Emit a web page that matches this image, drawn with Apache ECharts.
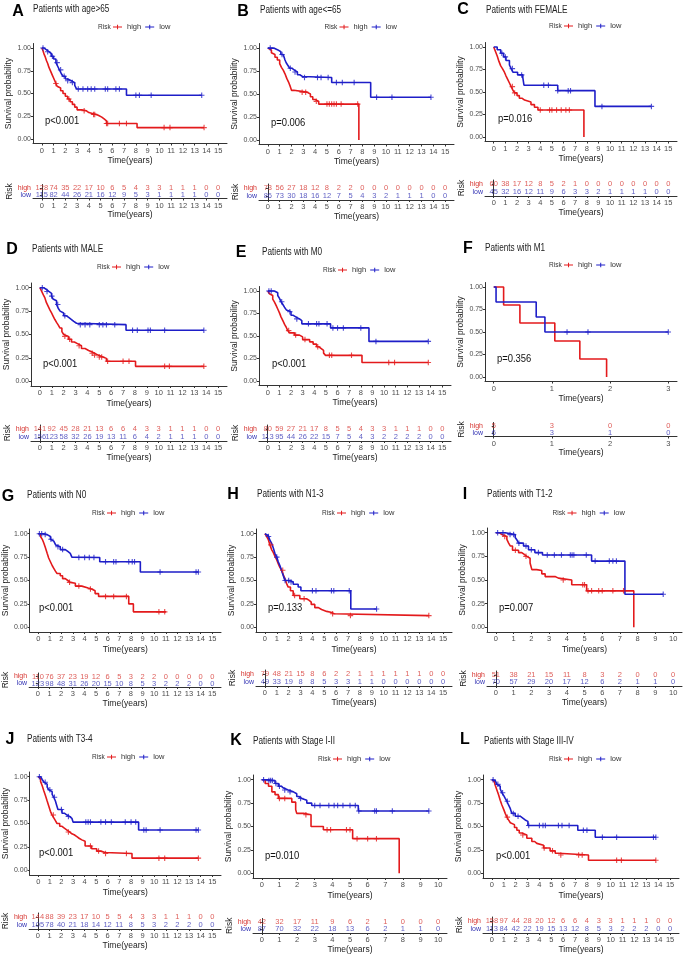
<!DOCTYPE html>
<html>
<head>
<meta charset="utf-8">
<script src="https://cdn.jsdelivr.net/npm/echarts@6/dist/echarts.min.js"></script>
<style>
  html, body { margin: 0; padding: 0; background: #fff; }
  #chart { width: 685px; height: 959px; }
</style>
</head>
<body>
<div id="chart"></div>
<script>
// Panel text
var letters = ['A', 'B', 'C', 'D', 'E', 'F', 'G', 'H', 'I', 'J', 'K', 'L'];
var titles = ['Patients with age>65', 'Patients with age<=65', 'Patients with FEMALE',
  'Patients with MALE', 'Patients with M0', 'Patients with M1',
  'Patients with N0', 'Patients with N1-3', 'Patients with T1-2',
  'Patients with T3-4', 'Patients with Stage I-II', 'Patients with Stage III-IV'];
var pValues = ['p<0.001', 'p=0.006', 'p=0.016', 'p<0.001', 'p<0.001', 'p=0.356',
  'p<0.001', 'p=0.133', 'p=0.007', 'p<0.001', 'p=0.010', 'p<0.001'];
var xMax = [15, 15, 15, 15, 15, 3, 15, 15, 10, 15, 10, 15];

// Kaplan-Meier steps [time, survival] and censor times
var aHigh = [[0,1],[0.1,0.97],[0.2,0.93],[0.3,0.9],[0.4,0.86],[0.5,0.83],[0.6,0.79],[0.7,0.76],[0.8,0.73],[0.9,0.7],[1.0,0.67],[1.1,0.64],[1.2,0.61],[1.3,0.58],[1.45,0.56],[1.6,0.53],[1.8,0.5],[2.0,0.47],[2.2,0.44],[2.4,0.41],[2.6,0.38],[2.8,0.35],[3.0,0.32],[3.4,0.31],[3.8,0.29],[4.0,0.27],[4.6,0.26],[4.8,0.24],[5.1,0.22],[5.3,0.2],[5.5,0.17],[8.1,0.125],[13.8,0.125]];
var aHighCens = [1.2,2.3,3.6,4.4,4.5,5.5,5.6,6.6,7.2,10.4,10.9,13.8];
var aLow = [[0,1],[0.2,0.98],[0.4,0.96],[0.6,0.94],[0.8,0.91],[1.0,0.88],[1.2,0.84],[1.35,0.8],[1.5,0.76],[1.65,0.72],[1.8,0.69],[2.0,0.66],[2.2,0.64],[2.5,0.62],[2.8,0.59],[2.95,0.55],[7.2,0.48],[13.6,0.48]];
var aLowCens = [0.1,0.5,0.9,1.3,1.6,1.9,2.2,2.6,3.1,3.5,3.9,4.2,4.5,5.4,5.6,6.3,6.6,8.0,8.3,9.3,13.6];

var bHigh = [[0,1],[0.15,0.98],[0.3,0.95],[0.45,0.93],[0.6,0.9],[0.8,0.87],[1.0,0.83],[1.15,0.79],[1.3,0.76],[1.45,0.72],[1.6,0.67],[1.75,0.63],[1.9,0.58],[2.0,0.54],[2.2,0.52],[3.3,0.5],[3.6,0.47],[3.8,0.44],[4.0,0.42],[4.3,0.39],[7.7,0]];
var bHighCens = [2.9,3.2,4.1,5.0,5.2,5.4,5.6,5.8,6.2,7.6];
var bLow = [[0,1],[0.5,0.98],[0.85,0.96],[1.1,0.93],[1.3,0.91],[1.45,0.87],[1.55,0.84],[1.7,0.81],[1.85,0.78],[2.05,0.76],[2.25,0.74],[2.5,0.71],[2.7,0.69],[2.95,0.68],[5.4,0.625],[8.7,0.465],[13.8,0.465]];
var bLowCens = [0.2,1.2,1.9,2.3,3.1,4.2,4.5,5.1,5.8,6.3,7.3,9.2,10.5,13.8];

var cHigh = [[0,1],[0.15,0.95],[0.3,0.9],[0.45,0.84],[0.6,0.79],[0.75,0.76],[0.92,0.72],[1.05,0.68],[1.2,0.64],[1.35,0.6],[1.5,0.56],[1.65,0.52],[1.8,0.49],[2.0,0.46],[2.2,0.43],[2.45,0.41],[2.65,0.39],[3.2,0.36],[3.5,0.33],[3.8,0.3],[7.75,0]];
var cHighCens = [1.6,1.8,4.0,4.8,5.0,5.4,5.8,6.2,6.5];
var cLow = [[0,1],[0.3,0.97],[0.6,0.93],[0.85,0.89],[1.05,0.85],[1.35,0.8],[1.5,0.76],[1.65,0.72],[2.05,0.69],[2.5,0.66],[2.6,0.575],[5.5,0.515],[8.7,0.34],[13.55,0.34]];
var cLowCens = [0.7,1.0,1.6,2.4,4.3,4.7,5.5,6.4,6.6,9.3,13.55];

var dHigh = [[0,1],[0.15,0.96],[0.3,0.92],[0.42,0.89],[0.55,0.84],[0.7,0.8],[0.85,0.76],[0.98,0.73],[1.1,0.7],[1.26,0.66],[1.4,0.63],[1.55,0.6],[1.68,0.57],[1.85,0.53],[2.0,0.5],[2.1,0.48],[2.4,0.45],[2.66,0.42],[2.9,0.4],[3.2,0.38],[3.5,0.35],[3.8,0.33],[4.1,0.315],[4.35,0.3],[4.6,0.28],[4.9,0.26],[5.3,0.245],[5.6,0.215],[8.05,0.16],[13.8,0.16]];
var dHighCens = [2.1,2.5,3.3,4.4,4.6,5.0,5.2,5.7,7.0,7.5,10.5,10.9,13.8];
var dLow = [[0,1],[0.3,0.98],[0.56,0.96],[0.75,0.94],[0.98,0.91],[1.1,0.88],[1.26,0.86],[1.4,0.82],[1.54,0.78],[1.7,0.75],[1.82,0.73],[2.0,0.7],[2.24,0.68],[2.45,0.66],[2.66,0.64],[2.85,0.62],[3.08,0.605],[7.25,0.545],[13.8,0.545]];
var dLowCens = [0.2,0.6,1.0,1.5,2.1,3.4,3.8,4.2,5.0,5.3,5.6,6.3,7.8,8.2,9.1,9.3,10.5,13.8];

var eHigh = [[0,1],[0.15,0.97],[0.29,0.95],[0.43,0.91],[0.57,0.88],[0.72,0.84],[0.86,0.8],[1.0,0.76],[1.15,0.71],[1.3,0.67],[1.45,0.63],[1.58,0.6],[1.72,0.56],[1.87,0.535],[2.3,0.51],[2.73,0.49],[3.0,0.46],[3.6,0.435],[3.9,0.41],[4.2,0.38],[4.4,0.36],[4.6,0.34],[4.8,0.31],[4.97,0.285],[8.1,0.205],[13.8,0.205]];
var eHighCens = [1.8,2.4,3.2,4.3,5.3,5.5,7.2,10.4,10.9,13.8];
var eLow = [[0,1],[0.57,0.98],[0.86,0.95],[1.0,0.92],[1.15,0.88],[1.3,0.85],[1.44,0.82],[1.6,0.79],[1.72,0.77],[2.0,0.73],[2.2,0.71],[2.44,0.69],[2.73,0.67],[2.93,0.635],[5.4,0.59],[8.7,0.44],[13.8,0.44]];
var eLowCens = [0.1,0.3,1.2,1.9,2.5,3.5,4.2,4.4,5.1,5.6,6.0,6.5,8.0,9.3,13.8];

var fHigh = [[0,1],[0.17,0.8],[0.45,0.6],[1.05,0.4],[1.48,0.2],[1.94,0]];
var fHighCens = [];
var fLow = [[0,1],[0.04,0.833],[0.73,0.667],[0.88,0.5],[3.0,0.5]];
var fLowCens = [1.26,1.62,3.0];

var gHigh = [[0,1],[0.2,0.97],[0.35,0.94],[0.48,0.9],[0.62,0.85],[0.77,0.79],[0.9,0.74],[1.05,0.7],[1.2,0.66],[1.34,0.63],[1.48,0.6],[1.62,0.575],[1.9,0.55],[2.1,0.52],[2.33,0.5],[2.55,0.48],[2.76,0.47],[3.2,0.44],[3.76,0.42],[4.3,0.41],[4.6,0.39],[4.9,0.36],[5.2,0.33],[7.8,0.25],[8.2,0.165],[11.0,0.165]];
var gHighCens = [2.7,3.5,4.5,5.8,6.5,7.6,10.4,10.9];
var gLow = [[0,1],[0.48,0.99],[0.77,0.97],[1.05,0.94],[1.2,0.92],[1.34,0.9],[1.5,0.88],[1.62,0.86],[1.9,0.83],[2.33,0.81],[2.55,0.79],[2.76,0.77],[2.9,0.75],[3.05,0.745],[5.3,0.7],[8.8,0.59],[13.8,0.59]];
var gLowCens = [0.1,0.3,0.6,1.1,1.7,2.1,3.5,4.0,4.4,4.8,5.8,6.5,6.7,7.8,8.1,8.3,10.5,13.6,13.8];

var hHigh = [[0,1],[0.15,0.97],[0.28,0.94],[0.42,0.88],[0.56,0.83],[0.7,0.8],[0.84,0.76],[1.0,0.72],[1.12,0.68],[1.26,0.64],[1.4,0.61],[1.55,0.56],[1.68,0.52],[1.82,0.47],[1.96,0.43],[2.15,0.39],[2.38,0.34],[2.94,0.305],[3.5,0.29],[3.7,0.27],[3.9,0.245],[4.2,0.21],[4.5,0.19],[4.77,0.17],[5.2,0.16],[5.55,0.145],[5.83,0.125],[13.8,0.125]];
var hHighCens = [0.5,1.5,2.5,3.3,5.7,7.2,13.8];
var hLow = [[0,1],[0.15,0.98],[0.28,0.97],[0.42,0.93],[0.56,0.9],[0.7,0.85],[0.84,0.79],[1.0,0.75],[1.12,0.7],[1.26,0.66],[1.4,0.61],[1.55,0.55],[1.68,0.5],[2.1,0.485],[2.38,0.46],[2.8,0.43],[3.03,0.39],[7.23,0.195],[9.4,0.195]];
var hLowCens = [0.3,1.0,1.7,2.0,2.2,4.0,4.3,5.6,5.8,7.1,9.4];

var iHigh = [[0,1],[0.2,0.98],[0.34,0.96],[0.62,0.93],[0.72,0.89],[0.81,0.86],[0.94,0.815],[1.28,0.79],[1.46,0.77],[1.6,0.75],[1.74,0.73],[1.93,0.68],[2.03,0.61],[2.3,0.6],[2.59,0.565],[2.78,0.536],[3.34,0.52],[3.53,0.5],[4.28,0.45],[5.12,0.385],[7.78,0]];
var iHighCens = [0.5,1.1,1.7,3.8,4.9,5.0,5.2,5.4,5.8,6.0,6.6,7.2];
var iLow = [[0,1],[0.53,0.98],[1.09,0.95],[1.2,0.92],[1.28,0.89],[1.56,0.86],[1.84,0.82],[2.2,0.79],[2.63,0.765],[5.4,0.7],[7.28,0.35],[9.44,0.35]];
var iLowCens = [0.1,0.4,0.8,1.0,1.3,1.7,2.0,2.4,2.9,3.3,3.7,4.2,4.3,4.4,5.1,5.6,6.4,6.6,6.8,9.44];

var jHigh = [[0,1],[0.1,0.98],[0.2,0.95],[0.35,0.9],[0.48,0.85],[0.62,0.8],[0.77,0.74],[0.9,0.69],[1.05,0.63],[1.2,0.59],[1.34,0.56],[1.48,0.53],[1.62,0.5],[1.85,0.47],[2.05,0.45],[2.25,0.43],[2.48,0.41],[2.7,0.39],[2.9,0.38],[3.1,0.36],[3.33,0.34],[3.55,0.325],[3.76,0.31],[4.04,0.26],[4.6,0.23],[5.04,0.205],[5.4,0.19],[5.75,0.18],[8.08,0.13],[13.8,0.13]];
var jHighCens = [1.3,2.6,4.5,5.2,5.8,7.6,10.4,10.9,13.8];
var jLow = [[0,1],[0.2,0.98],[0.34,0.97],[0.5,0.94],[0.63,0.92],[0.77,0.89],[0.91,0.86],[1.05,0.84],[1.2,0.81],[1.34,0.78],[1.48,0.74],[1.6,0.69],[1.7,0.65],[2.05,0.61],[2.25,0.59],[2.48,0.575],[2.7,0.555],[2.9,0.54],[3.0,0.515],[8.65,0.43],[13.8,0.43]];
var jLowCens = [0.1,0.6,1.0,1.4,2.0,2.6,4.1,4.3,4.5,5.4,5.8,6.3,7.5,8.0,8.4,9.1,9.3,10.5,13.6,13.8];

var kHigh = [[0,1],[0.19,0.96],[0.38,0.93],[0.57,0.87],[0.75,0.84],[0.94,0.8],[1.7,0.76],[1.92,0.68],[1.98,0.64],[2.36,0.625],[2.79,0.5],[3.49,0.465],[5.15,0.37],[7.79,0]];
var kHighCens = [1.0,1.3,2.5,3.7,3.9,4.8,5.0,5.4,6.0,6.5];
var kLow = [[0,1],[0.38,0.99],[0.75,0.96],[0.94,0.93],[1.1,0.91],[1.23,0.89],[1.5,0.87],[1.79,0.85],[1.98,0.82],[2.1,0.8],[2.26,0.78],[2.55,0.75],[2.83,0.725],[5.47,0.665],[9.47,0.665]];
var kLowCens = [0.1,0.4,0.5,0.6,0.8,1.0,1.3,1.6,2.2,3.0,3.3,3.8,4.1,4.3,4.6,5.0,5.3,5.5,6.4,6.5,7.4,9.47];

var lHigh = [[0,1],[0.1,0.98],[0.2,0.96],[0.28,0.94],[0.42,0.89],[0.56,0.84],[0.7,0.78],[0.84,0.73],[1.0,0.68],[1.12,0.64],[1.26,0.6],[1.4,0.57],[1.55,0.54],[1.68,0.52],[1.9,0.49],[2.1,0.46],[2.3,0.43],[2.52,0.41],[2.94,0.375],[3.36,0.34],[3.6,0.32],[3.78,0.3],[4.35,0.27],[4.9,0.24],[5.33,0.215],[5.6,0.195],[8.13,0.14],[13.8,0.14]];
var lHighCens = [1.3,2.6,4.4,5.1,5.8,7.3,7.6,10.5,10.9,13.8];
var lLow = [[0,1],[0.14,0.99],[0.28,0.98],[0.42,0.95],[0.56,0.93],[0.7,0.9],[0.84,0.86],[1.0,0.83],[1.12,0.8],[1.26,0.77],[1.4,0.73],[1.55,0.69],[1.68,0.64],[1.96,0.61],[2.38,0.59],[2.6,0.57],[2.8,0.555],[3.03,0.51],[7.23,0.46],[8.7,0.385],[13.8,0.385]];
var lLowCens = [0.1,0.5,0.9,1.3,1.8,2.2,3.1,4.0,4.3,4.5,5.6,5.9,6.5,7.7,8.0,9.3,10.5,13.6,13.8];

// Numbers at risk (one value per year tick)
var aRiskHigh = [128,74,35,22,17,10,6,5,4,3,3,1,1,1,0,0];
var aRiskLow  = [115,82,44,26,21,16,12,9,5,3,1,1,1,1,0,0];
var bRiskHigh = [73,56,27,18,12,8,2,2,0,0,0,0,0,0,0,0];
var bRiskLow  = [86,73,30,18,16,12,7,5,4,3,2,1,1,1,0,0];
var cRiskHigh = [60,38,17,12,8,5,2,1,0,0,0,0,0,0,0,0];
var cRiskLow  = [45,32,16,12,11,9,6,3,3,2,1,1,1,1,0,0];
var dRiskHigh = [141,92,45,28,21,13,6,6,4,3,3,1,1,1,0,0];
var dRiskLow  = [156,123,58,32,26,19,13,11,6,4,2,1,1,1,0,0];
var eRiskHigh = [80,59,27,21,17,8,5,5,4,3,3,1,1,1,0,0];
var eRiskLow  = [113,95,44,26,22,15,7,5,4,3,2,2,2,2,0,0];
var fRiskHigh = [5,3,0,0];
var fRiskLow  = [6,3,1,0];
var gRiskHigh = [110,76,37,23,19,12,6,5,3,2,2,0,0,0,0,0];
var gRiskLow  = [123,98,48,31,26,20,15,10,8,5,3,2,2,2,0,0];
var hRiskHigh = [79,48,21,15,8,6,2,2,1,1,1,1,1,1,0,0];
var hRiskLow  = [49,33,19,8,8,5,3,3,1,1,0,0,0,0,0,0];
var iRiskHigh = [51,38,21,15,11,8,3,2,0,0,0];
var iRiskLow  = [70,57,29,20,17,12,6,2,1,1,0];
var jRiskHigh = [144,88,39,23,17,10,5,5,4,3,3,1,1,1,0,0];
var jRiskLow  = [105,78,40,21,18,14,12,11,8,5,3,2,2,2,0,0];
var kRiskHigh = [42,32,17,11,9,6,2,1,0,0,0];
var kRiskLow  = [87,70,32,22,18,13,6,2,1,1,0];
var lRiskHigh = [158,97,44,28,20,12,6,6,4,3,3,1,1,1,0,0];
var lRiskLow  = [113,84,42,22,19,15,13,12,8,5,3,2,2,2,0,0];

var panels = [
  [aHigh, aHighCens, aLow, aLowCens, aRiskHigh, aRiskLow],
  [bHigh, bHighCens, bLow, bLowCens, bRiskHigh, bRiskLow],
  [cHigh, cHighCens, cLow, cLowCens, cRiskHigh, cRiskLow],
  [dHigh, dHighCens, dLow, dLowCens, dRiskHigh, dRiskLow],
  [eHigh, eHighCens, eLow, eLowCens, eRiskHigh, eRiskLow],
  [fHigh, fHighCens, fLow, fLowCens, fRiskHigh, fRiskLow],
  [gHigh, gHighCens, gLow, gLowCens, gRiskHigh, gRiskLow],
  [hHigh, hHighCens, hLow, hLowCens, hRiskHigh, hRiskLow],
  [iHigh, iHighCens, iLow, iLowCens, iRiskHigh, iRiskLow],
  [jHigh, jHighCens, jLow, jLowCens, jRiskHigh, jRiskLow],
  [kHigh, kHighCens, kLow, kLowCens, kRiskHigh, kRiskLow],
  [lHigh, lHighCens, lLow, lLowCens, lRiskHigh, lRiskLow]
];

// Layout (pixels): survival plot box [left, top, right, bottom], risk table [top, height]
var plotBox = [
  [33, 43.5, 227, 143.5], [259, 43.5, 454, 144.5], [485, 42.5, 677, 141.5],
  [31, 283, 227, 386], [259, 286.5, 451, 385.5], [485, 282.5, 677, 381.5],
  [27, 529, 221, 632], [256, 529, 452, 632], [487, 528, 682, 632],
  [27, 772, 221, 875], [253, 775, 447, 878], [483, 775, 679, 878]
];
var riskBox = [
  [184.5, 14], [184, 16], [180, 16],
  [425, 16], [425, 16], [422.5, 14],
  [673, 14], [670, 16], [671, 15],
  [913, 16], [918.5, 14.5], [917, 16]
];
// letter [x, y], title [x, y], legend y, p-value [x, y]
var letterPos = [[18,12],[243,12],[463,10],[12,250],[241,253],[468,249],[8,497],[233,495],[465,495],[10,740],[236,741],[465,740]];
var titlePos = [[33,9],[260,10],[486,10],[32,249],[262,252],[485,248],[27,495],[257,494],[487,494],[27,739],[253,741],[484,741]];
var legendY = [27,27,26,267,270,265,513,513,513,757,759,759];
var pPos = [[45,121],[271,123],[498,119],[43,364],[272,364],[497,359],[39,608],[268,608],[499,608],[39,853],[265,856],[496,856]];

var FONT = '"Liberation Sans", Arial, sans-serif';
var NARROW = 0.82;
var RED = '#E31A1C', BLUE = '#1E1EC8';
var RED_T = '#D6342F', BLUE_T = '#3434B4';
var AXIS = '#333333', TXT = '#4D4D4D';
var crossIcon = 'path://M4,0h2v4h4v2h-4v4h-2v-4h-4v-2h4z';
var legendIcon = 'path://M0,4h20v2.2h-20z M9,0h2.2v10h-2.2z';

function survAt(steps, t) {
  var s = steps[0][1];
  for (var k = 0; k < steps.length; k++) {
    if (steps[k][0] <= t) s = steps[k][1]; else break;
  }
  return s;
}

function ticks(max) {
  var out = [];
  for (var t = 0; t <= max; t++) out.push(t);
  return out;
}

function label(x, y, text, size, fill, extra) {
  return {
    type: 'text', x: x, y: y, scaleX: NARROW, silent: true,
    style: Object.assign({ text: text, fontSize: size, fill: fill, fontFamily: FONT, verticalAlign: 'middle' }, extra || {})
  };
}

var grids = [], xAxes = [], yAxes = [], series = [], legends = [], graphics = [];

panels.forEach(function (p, i) {
  var box = plotBox[i], rb = riskBox[i], mx = xMax[i];
  var g = i * 2, gr = i * 2 + 1;
  var w = box[2] - box[0];

  grids.push({ left: box[0], top: box[1], width: w, height: box[3] - box[1] });
  grids.push({ left: box[0], top: rb[0], width: w, height: rb[1] });

  var xCommon = {
    type: 'value', min: -0.05 * mx, max: 1.05 * mx,
    axisLine: { show: true, onZero: false, lineStyle: { color: AXIS, width: 1 } },
    axisTick: { show: true, length: 2, customValues: ticks(mx), lineStyle: { color: AXIS } },
    axisLabel: { customValues: ticks(mx), fontSize: 7.5, color: TXT, margin: 3, fontFamily: FONT },
    splitLine: { show: false },
    name: 'Time(years)', nameLocation: 'middle',
    nameTextStyle: { fontSize: 8.5, color: '#222', fontFamily: FONT }
  };
  xAxes.push(Object.assign({ gridIndex: g, nameGap: 13 }, xCommon));
  xAxes.push(Object.assign({ gridIndex: gr, nameGap: 12 }, xCommon));

  yAxes.push({
    gridIndex: g, type: 'value', min: -0.05, max: 1.05,
    axisLine: { show: true, onZero: false, lineStyle: { color: AXIS, width: 1 } },
    axisTick: { show: true, length: 2, customValues: [0, 0.25, 0.5, 0.75, 1], lineStyle: { color: AXIS } },
    axisLabel: {
      customValues: [0, 0.25, 0.5, 0.75, 1], fontSize: 7, color: TXT, margin: 2, fontFamily: FONT,
      formatter: function (v) { return v.toFixed(2); }
    },
    splitLine: { show: false },
    name: 'Survival probability', nameLocation: 'middle', nameGap: 13,
    nameTextStyle: { fontSize: 8.5, color: '#222', fontFamily: FONT }
  });
  yAxes.push({
    gridIndex: gr, type: 'category', data: ['low', 'high'],
    axisLine: { show: true, lineStyle: { color: AXIS, width: 1 } },
    axisTick: { show: true, length: 2, alignWithLabel: true, interval: 0, lineStyle: { color: AXIS } },
    axisLabel: {
      interval: 0, fontSize: 7, margin: 2, fontFamily: FONT,
      color: function (v) { return v === 'high' ? RED_T : BLUE_T; }
    },
    name: 'Risk', nameLocation: 'middle', nameGap: 12,
    nameTextStyle: { fontSize: 8.5, color: '#222', fontFamily: FONT }
  });

  var groups = [
    { name: 'high', steps: p[0], cens: p[1], risk: p[4], color: RED, tcolor: RED_T },
    { name: 'low', steps: p[2], cens: p[3], risk: p[5], color: BLUE, tcolor: BLUE_T }
  ];
  groups.forEach(function (grp) {
    series.push({
      name: grp.name, type: 'line', step: 'end', xAxisIndex: g, yAxisIndex: g,
      data: grp.steps, showSymbol: false, symbol: 'none', silent: true,
      itemStyle: { color: grp.color },
      lineStyle: { color: grp.color, width: 1.6 }, z: 3
    });
    series.push({
      name: grp.name, type: 'scatter', xAxisIndex: g, yAxisIndex: g,
      data: grp.cens.map(function (t) { return [t, survAt(grp.steps, t)]; }),
      symbol: crossIcon, symbolSize: 5.5, silent: true,
      itemStyle: { color: grp.color }, z: 4
    });
    series.push({
      name: grp.name, type: 'scatter', xAxisIndex: gr, yAxisIndex: gr,
      data: grp.risk.map(function (n, k) { return [k, grp.name, n]; }),
      symbolSize: 1, silent: true,
      itemStyle: { color: 'rgba(0,0,0,0)' },
      label: {
        show: true, position: 'inside', fontSize: 7.5, color: grp.tcolor, fontFamily: FONT,
        formatter: function (q) { return q.value[2]; }
      }
    });
  });

  var cx = (box[0] + box[2]) / 2;
  legends.push({
    data: ['high', 'low'], left: cx - 17, top: legendY[i] - 4, padding: 0,
    icon: legendIcon, itemWidth: 9, itemHeight: 7, itemGap: 4,
    selectedMode: false,
    textStyle: { fontSize: 7.5, color: '#333', fontFamily: FONT }
  });

  graphics.push(label(cx - 32, legendY[i], 'Risk', 8, '#333'));
  graphics.push({
    type: 'text', x: letterPos[i][0], y: letterPos[i][1], silent: true,
    style: { text: letters[i], fontSize: 16, fontWeight: 'bold', fill: '#000', fontFamily: FONT,
      align: 'center', verticalAlign: 'middle' }
  });
  graphics.push(label(titlePos[i][0], titlePos[i][1], titles[i], 10, '#222'));
  graphics.push(label(pPos[i][0], pPos[i][1], pValues[i], 11.5, '#111'));
});

var chart = echarts.init(document.getElementById('chart'));
chart.setOption({
  backgroundColor: '#ffffff',
  animation: false,
  grid: grids,
  xAxis: xAxes,
  yAxis: yAxes,
  legend: legends,
  series: series,
  graphic: graphics
});
</script>
</body>
</html>
